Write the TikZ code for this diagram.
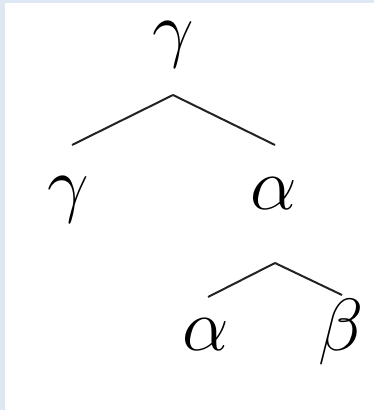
\RequirePackage{fix-cm}
\documentclass[tikz,border=0pt]{standalone}
\usepackage{tikz}
\definecolor{framecolor}{RGB}{222,232,242}
\definecolor{edgecolor}{RGB}{35,35,35}

\begin{document}
\begin{tikzpicture}[
  x=0.5pt, y=-0.5pt,
  sym/.style={anchor=base,inner sep=0pt,font=\fontsize{37}{40}\selectfont},
  edge/.style={draw=edgecolor,line width=1pt}
]
  \useasboundingbox (0,0) rectangle (374,410);
  \fill[framecolor] (0,0) rectangle (374,410);
  \fill[white] (5,3) rectangle (374,410);

  \node[sym] (root) at (173,54) {$\gamma$};
  \node[sym] (gl) at (68,209) {$\gamma$};
  \node[sym] (ar) at (274,210) {$\alpha$};
  \node[sym] (al) at (206,350) {$\alpha$};
  \node[sym] (be) at (341,350) {$\beta$};

  \draw[edge] ([shift={(0,41)}]root.base) -- ([shift={(4,-64)}]gl.base);
  \draw[edge] ([shift={(0,41)}]root.base) -- ([shift={(1,-65)}]ar.base);
  \draw[edge] ([shift={(1,53)}]ar.base) -- ([shift={(2,-53)}]al.base);
  \draw[edge] ([shift={(1,53)}]ar.base) -- ([shift={(1,-55)}]be.base);
\end{tikzpicture}
\end{document}
